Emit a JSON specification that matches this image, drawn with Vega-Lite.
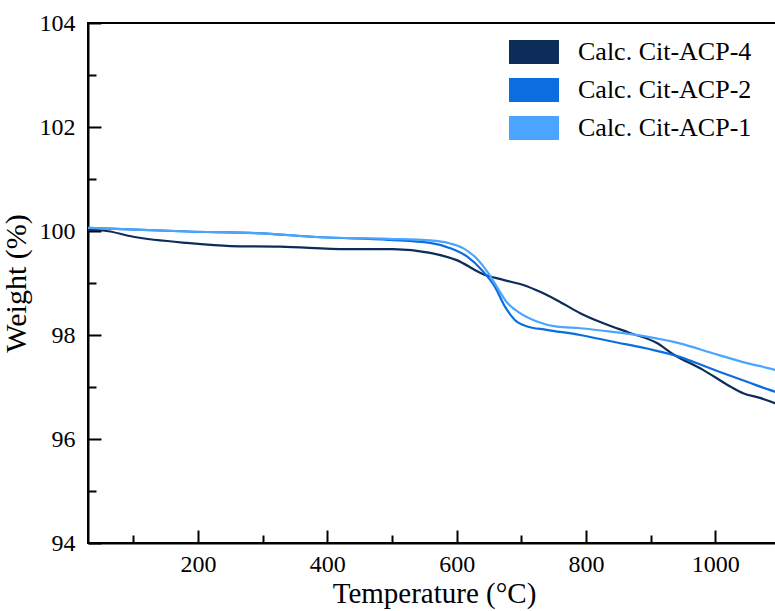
{
  "$schema": "https://vega.github.io/schema/vega-lite/v6.json",
  "autosize": "none",
  "padding": {"left": 88, "top": 23, "right": 0, "bottom": 68},
  "width": 692,
  "height": 520,
  "config": {
    "font": "Liberation Serif",
    "view": {"stroke": "black", "strokeWidth": 2}
  },
  "data": {
    "values": [
      {"s": "Calc. Cit-ACP-4", "t": 30, "w": 100.02},
      {"s": "Calc. Cit-ACP-4", "t": 53, "w": 100.01},
      {"s": "Calc. Cit-ACP-4", "t": 100, "w": 99.89},
      {"s": "Calc. Cit-ACP-4", "t": 183, "w": 99.77},
      {"s": "Calc. Cit-ACP-4", "t": 250, "w": 99.71},
      {"s": "Calc. Cit-ACP-4", "t": 327, "w": 99.7},
      {"s": "Calc. Cit-ACP-4", "t": 430, "w": 99.65},
      {"s": "Calc. Cit-ACP-4", "t": 502, "w": 99.65},
      {"s": "Calc. Cit-ACP-4", "t": 559, "w": 99.58},
      {"s": "Calc. Cit-ACP-4", "t": 600, "w": 99.44},
      {"s": "Calc. Cit-ACP-4", "t": 641, "w": 99.17},
      {"s": "Calc. Cit-ACP-4", "t": 672, "w": 99.06},
      {"s": "Calc. Cit-ACP-4", "t": 703, "w": 98.96},
      {"s": "Calc. Cit-ACP-4", "t": 729, "w": 98.83},
      {"s": "Calc. Cit-ACP-4", "t": 755, "w": 98.67},
      {"s": "Calc. Cit-ACP-4", "t": 791, "w": 98.42},
      {"s": "Calc. Cit-ACP-4", "t": 826, "w": 98.23},
      {"s": "Calc. Cit-ACP-4", "t": 868, "w": 98.04},
      {"s": "Calc. Cit-ACP-4", "t": 909, "w": 97.85},
      {"s": "Calc. Cit-ACP-4", "t": 936, "w": 97.62},
      {"s": "Calc. Cit-ACP-4", "t": 981, "w": 97.33},
      {"s": "Calc. Cit-ACP-4", "t": 1023, "w": 97.01},
      {"s": "Calc. Cit-ACP-4", "t": 1043, "w": 96.88},
      {"s": "Calc. Cit-ACP-4", "t": 1069, "w": 96.79},
      {"s": "Calc. Cit-ACP-4", "t": 1092, "w": 96.69},
      {"s": "Calc. Cit-ACP-4", "t": 1100, "w": 96.65},
      {"s": "Calc. Cit-ACP-2", "t": 30, "w": 100.06},
      {"s": "Calc. Cit-ACP-2", "t": 53, "w": 100.05},
      {"s": "Calc. Cit-ACP-2", "t": 185, "w": 99.99},
      {"s": "Calc. Cit-ACP-2", "t": 290, "w": 99.96},
      {"s": "Calc. Cit-ACP-2", "t": 390, "w": 99.88},
      {"s": "Calc. Cit-ACP-2", "t": 495, "w": 99.83},
      {"s": "Calc. Cit-ACP-2", "t": 559, "w": 99.77},
      {"s": "Calc. Cit-ACP-2", "t": 590, "w": 99.67},
      {"s": "Calc. Cit-ACP-2", "t": 616, "w": 99.51},
      {"s": "Calc. Cit-ACP-2", "t": 641, "w": 99.22},
      {"s": "Calc. Cit-ACP-2", "t": 659, "w": 98.93},
      {"s": "Calc. Cit-ACP-2", "t": 675, "w": 98.54},
      {"s": "Calc. Cit-ACP-2", "t": 690, "w": 98.29},
      {"s": "Calc. Cit-ACP-2", "t": 708, "w": 98.17},
      {"s": "Calc. Cit-ACP-2", "t": 739, "w": 98.1},
      {"s": "Calc. Cit-ACP-2", "t": 791, "w": 98.0},
      {"s": "Calc. Cit-ACP-2", "t": 842, "w": 97.87},
      {"s": "Calc. Cit-ACP-2", "t": 894, "w": 97.74},
      {"s": "Calc. Cit-ACP-2", "t": 945, "w": 97.58},
      {"s": "Calc. Cit-ACP-2", "t": 971, "w": 97.46},
      {"s": "Calc. Cit-ACP-2", "t": 1007, "w": 97.29},
      {"s": "Calc. Cit-ACP-2", "t": 1049, "w": 97.1},
      {"s": "Calc. Cit-ACP-2", "t": 1092, "w": 96.91},
      {"s": "Calc. Cit-ACP-2", "t": 1100, "w": 96.88},
      {"s": "Calc. Cit-ACP-1", "t": 30, "w": 100.06},
      {"s": "Calc. Cit-ACP-1", "t": 53, "w": 100.05},
      {"s": "Calc. Cit-ACP-1", "t": 185, "w": 99.99},
      {"s": "Calc. Cit-ACP-1", "t": 290, "w": 99.96},
      {"s": "Calc. Cit-ACP-1", "t": 390, "w": 99.88},
      {"s": "Calc. Cit-ACP-1", "t": 495, "w": 99.85},
      {"s": "Calc. Cit-ACP-1", "t": 559, "w": 99.82},
      {"s": "Calc. Cit-ACP-1", "t": 590, "w": 99.76},
      {"s": "Calc. Cit-ACP-1", "t": 610, "w": 99.67},
      {"s": "Calc. Cit-ACP-1", "t": 631, "w": 99.47},
      {"s": "Calc. Cit-ACP-1", "t": 649, "w": 99.19},
      {"s": "Calc. Cit-ACP-1", "t": 662, "w": 98.93},
      {"s": "Calc. Cit-ACP-1", "t": 677, "w": 98.64},
      {"s": "Calc. Cit-ACP-1", "t": 698, "w": 98.42},
      {"s": "Calc. Cit-ACP-1", "t": 724, "w": 98.26},
      {"s": "Calc. Cit-ACP-1", "t": 755, "w": 98.16},
      {"s": "Calc. Cit-ACP-1", "t": 791, "w": 98.13},
      {"s": "Calc. Cit-ACP-1", "t": 842, "w": 98.06},
      {"s": "Calc. Cit-ACP-1", "t": 894, "w": 97.97},
      {"s": "Calc. Cit-ACP-1", "t": 945, "w": 97.84},
      {"s": "Calc. Cit-ACP-1", "t": 996, "w": 97.65},
      {"s": "Calc. Cit-ACP-1", "t": 1049, "w": 97.46},
      {"s": "Calc. Cit-ACP-1", "t": 1092, "w": 97.33},
      {"s": "Calc. Cit-ACP-1", "t": 1100, "w": 97.3}
    ]
  },
  "mark": {"type": "line", "strokeWidth": 2.2, "interpolate": "monotone"},
  "encoding": {
    "x": {
      "field": "t",
      "type": "quantitative",
      "title": "Temperature (°C)",
      "scale": {"domain": [30, 1100], "nice": false, "zero": false},
      "axis": {
        "values": [100, 200, 300, 400, 500, 600, 700, 800, 900, 1000],
        "labelExpr": "datum.value % 200 === 0 ? datum.label : ''",
        "format": "d",
        "grid": false,
        "domainColor": "black",
        "domainWidth": 2,
        "tickColor": "black",
        "tickWidth": 2,
        "tickSize": {"expr": "datum.value % 200 === 0 ? -13 : -8"},
        "labelFontSize": 24,
        "labelColor": "black",
        "labelPadding": 22,
        "labelFlush": false,
        "titleFontSize": 29,
        "titleFontWeight": "normal",
        "titleColor": "black",
        "titlePadding": 3
      }
    },
    "y": {
      "field": "w",
      "type": "quantitative",
      "title": "Weight (%)",
      "scale": {"domain": [94, 104], "nice": false, "zero": false},
      "axis": {
        "values": [94, 95, 96, 97, 98, 99, 100, 101, 102, 103, 104],
        "labelExpr": "datum.value % 2 === 0 ? datum.label : ''",
        "grid": false,
        "domainColor": "black",
        "domainWidth": 2,
        "tickColor": "black",
        "tickWidth": 2,
        "tickSize": {"expr": "datum.value % 2 === 0 ? -13 : -8"},
        "labelFontSize": 24,
        "labelColor": "black",
        "labelPadding": 26,
        "labelFlush": false,
        "titleFontSize": 30,
        "titleFontWeight": "normal",
        "titleColor": "black",
        "titlePadding": 8
      }
    },
    "color": {
      "field": "s",
      "type": "nominal",
      "scale": {
        "domain": ["Calc. Cit-ACP-4", "Calc. Cit-ACP-2", "Calc. Cit-ACP-1"],
        "range": ["#0c2d5a", "#0a6ee0", "#4aa5ff"]
      },
      "legend": {
        "title": null,
        "orient": "none",
        "legendX": 421,
        "legendY": 4,
        "padding": 0,
        "symbolType": "M-1,-0.48L1,-0.48L1,0.48L-1,0.48Z",
        "symbolSize": 2500,
        "symbolStrokeWidth": 0,
        "symbolOpacity": 1,
        "labelFontSize": 26,
        "labelLimit": 400,
        "labelColor": "black",
        "labelOffset": 19,
        "rowPadding": 0,
        "encode": {
          "symbols": {
            "update": {
              "fill": {"scale": "color", "field": "value"},
              "fillOpacity": {"value": 1},
              "strokeWidth": {"value": 0}
            }
          }
        }
      }
    }
  }
}
